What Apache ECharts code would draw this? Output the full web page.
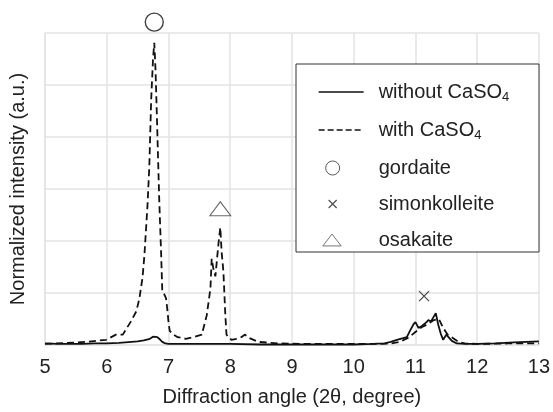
<!DOCTYPE html>
<html>
<head>
<meta charset="utf-8">
<script src="https://cdn.jsdelivr.net/npm/echarts@6/dist/echarts.min.js"></script>
<style>
  html, body { margin: 0; padding: 0; background: #fff; }
  #chart { width: 553px; height: 412px; }
</style>
</head>
<body>
<div id="chart"></div>
<script>
// XRD patterns, 2theta (degree) vs normalized intensity
var xWithout = [5.0, 5.2, 5.4, 5.6, 5.8, 6.0, 6.2, 6.4, 6.5, 6.6, 6.7, 6.75, 6.78, 6.82, 6.86, 6.9, 6.95, 7.0,
  7.2, 7.5, 7.8, 8.0, 8.5, 9.0, 9.5, 10.0, 10.3, 10.5, 10.6, 10.7, 10.8, 10.86, 10.92, 10.97, 11.0, 11.05,
  11.1, 11.13, 11.18, 11.21, 11.25, 11.27, 11.3, 11.33, 11.37, 11.41, 11.45, 11.5, 11.53, 11.59, 11.67,
  11.8, 12.0, 12.3, 12.6, 13.0];
var yWithout = [0.03, 0.02, 0.02, 0.02, 0.03, 0.03, 0.04, 0.06, 0.07, 0.09, 0.12, 0.16, 0.17, 0.15, 0.11, 0.06, 0.03, 0.02,
  0.02, 0.02, 0.02, 0.02, 0.01, 0.01, 0.01, 0.01, 0.02, 0.03, 0.06, 0.1, 0.13, 0.15, 0.29, 0.4, 0.44, 0.33,
  0.36, 0.39, 0.44, 0.48, 0.45, 0.46, 0.55, 0.61, 0.39, 0.22, 0.1, 0.2, 0.23, 0.08, 0.03,
  0.02, 0.02, 0.03, 0.05, 0.07];

var xWith = [5.0, 5.35, 5.67, 5.99, 6.15, 6.26, 6.39, 6.48, 6.53, 6.58, 6.61, 6.66, 6.69, 6.72, 6.75, 6.77, 6.79,
  6.81, 6.85, 6.88, 6.9, 6.93, 6.96, 6.98, 7.0, 7.02, 7.08, 7.15, 7.28, 7.4, 7.54, 7.62, 7.68, 7.7, 7.73,
  7.76, 7.79, 7.81, 7.84, 7.86, 7.89, 7.92, 7.94, 7.97, 8.02, 8.1, 8.18, 8.24, 8.3, 8.45, 8.8, 9.2, 9.6,
  10.0, 10.4, 10.6, 10.75, 10.9, 11.0, 11.1, 11.2, 11.3, 11.38, 11.45, 11.52, 11.6, 11.7, 11.8, 12.0,
  12.5, 13.0];
var yWith = [0.02, 0.04, 0.06, 0.1, 0.2, 0.2, 0.45, 0.65, 0.9, 1.3, 1.72, 2.68, 3.44, 4.72, 5.5, 5.81, 5.3,
  4.5, 2.81, 1.8, 1.03, 0.98, 0.9, 0.7, 0.45, 0.27, 0.2, 0.15, 0.12, 0.15, 0.2, 0.57, 1.09, 1.66, 1.45,
  1.32, 1.7, 1.95, 2.26, 1.8, 1.41, 0.6, 0.2, 0.15, 0.1, 0.12, 0.15, 0.2, 0.14, 0.06, 0.03, 0.02, 0.02,
  0.02, 0.02, 0.03, 0.06, 0.15, 0.25, 0.34, 0.4, 0.48, 0.5, 0.33, 0.2, 0.14, 0.06, 0.03, 0.02,
  0.03, 0.03];

// phase markers
var gordaite = [[6.77, 6.21]];
var simonkolleite = [[11.14, 0.94]];
var osakaite = [[7.84, 2.62]];

function zip(xs, ys) {
  return xs.map(function (x, i) { return [x, ys[i]]; });
}

var font = 'Liberation Sans, Arial, Helvetica, sans-serif';
var chart = echarts.init(document.getElementById('chart'));

chart.setOption({
  animation: false,
  textStyle: { fontFamily: font, color: '#222' },
  grid: { left: 45, right: 10, top: 33, bottom: 65 },
  xAxis: {
    type: 'value',
    min: 5,
    max: 13,
    interval: 1,
    name: 'Diffraction angle (2\u03b8, degree)',
    nameLocation: 'middle',
    nameGap: 42,
    nameTextStyle: { fontSize: 20, color: '#222', fontFamily: font },
    axisLine: { lineStyle: { color: '#e3e3e3', width: 1.5 } },
    axisTick: { show: false },
    axisLabel: { fontSize: 20, color: '#222', margin: 12, fontFamily: font },
    splitLine: { lineStyle: { color: '#e3e3e3', width: 1.5 } }
  },
  yAxis: {
    type: 'value',
    min: 0,
    max: 6,
    interval: 1,
    name: 'Normalized intensity (a.u.)',
    nameLocation: 'middle',
    nameGap: 17,
    nameTextStyle: { fontSize: 20, color: '#222', fontFamily: font },
    axisLine: { show: true, lineStyle: { color: '#e3e3e3', width: 1.5 } },
    axisTick: { show: false },
    axisLabel: { show: false },
    splitLine: { lineStyle: { color: '#e3e3e3', width: 1.5 } }
  },
  graphic: [{
    type: 'rect',
    z: 3,
    shape: { x: 296, y: 64, width: 243, height: 188 },
    style: { fill: '#fff', stroke: '#333', lineWidth: 1 }
  }],
  legend: {
    orient: 'vertical',
    left: 313,
    top: 77,
    z: 5,
    itemWidth: 45,
    itemHeight: 14,
    itemGap: 16,
    textStyle: {
      fontFamily: font,
      fontSize: 20,
      color: '#222',
      rich: {
        t: { fontSize: 20, lineHeight: 24, padding: [0, 0, 0, 10], fontFamily: font, color: '#222' },
        s: { fontSize: 13, lineHeight: 24, verticalAlign: 'bottom', padding: [8, 0, 0, 0], fontFamily: font, color: '#222' }
      }
    },
    formatter: function (name) {
      if (name.indexOf('CaSO4') >= 0) {
        return '{t|' + name.replace('4', '') + '}{s|4}';
      }
      return '{t|' + name + '}';
    },
    data: [
      { name: 'without CaSO4', itemStyle: { opacity: 0 }, lineStyle: { width: 1.3 } },
      { name: 'with CaSO4', itemStyle: { opacity: 0 }, lineStyle: { width: 1.3, type: [6, 3] } },
      { name: 'gordaite', icon: 'path://M0,7A7,7 0 1,0 14,7A7,7 0 1,0 0,7ZM31,7',
        itemStyle: { color: 'rgba(255,255,255,0)', borderColor: '#333', borderWidth: 1 } },
      { name: 'simonkolleite', icon: 'path://M3,3L11,11M11,3L3,11M0,0M31,14',
        itemStyle: { color: 'rgba(255,255,255,0)', borderColor: '#222', borderWidth: 1.2 } },
      { name: 'osakaite', icon: 'path://M0,12L8.5,1L17,12ZM34,0M34,13',
        itemStyle: { color: 'rgba(255,255,255,0)', borderColor: '#555', borderWidth: 1 } }
    ]
  },
  series: [
    {
      name: 'without CaSO4',
      type: 'line',
      symbol: 'none',
      data: zip(xWithout, yWithout),
      lineStyle: { color: '#111', width: 1.8, type: 'solid' },
      itemStyle: { color: '#111' }
    },
    {
      name: 'with CaSO4',
      type: 'line',
      symbol: 'none',
      data: zip(xWith, yWith),
      lineStyle: { color: '#111', width: 1.8, type: [7, 4] },
      itemStyle: { color: '#111' }
    },
    {
      name: 'gordaite',
      type: 'scatter',
      clip: false,
      symbol: 'circle',
      symbolSize: 18,
      data: gordaite,
      itemStyle: { color: 'rgba(255,255,255,0)', borderColor: '#111', borderWidth: 1.4 }
    },
    {
      name: 'simonkolleite',
      type: 'scatter',
      clip: false,
      symbol: 'path://M0,0L10,10M10,0L0,10',
      symbolSize: 10,
      data: simonkolleite,
      itemStyle: { color: 'rgba(255,255,255,0)', borderColor: '#222', borderWidth: 1.3 }
    },
    {
      name: 'osakaite',
      type: 'scatter',
      clip: false,
      symbol: 'triangle',
      symbolSize: [21, 14],
      data: osakaite,
      itemStyle: { color: 'rgba(255,255,255,0)', borderColor: '#444', borderWidth: 1 }
    }
  ]
});
</script>
</body>
</html>
